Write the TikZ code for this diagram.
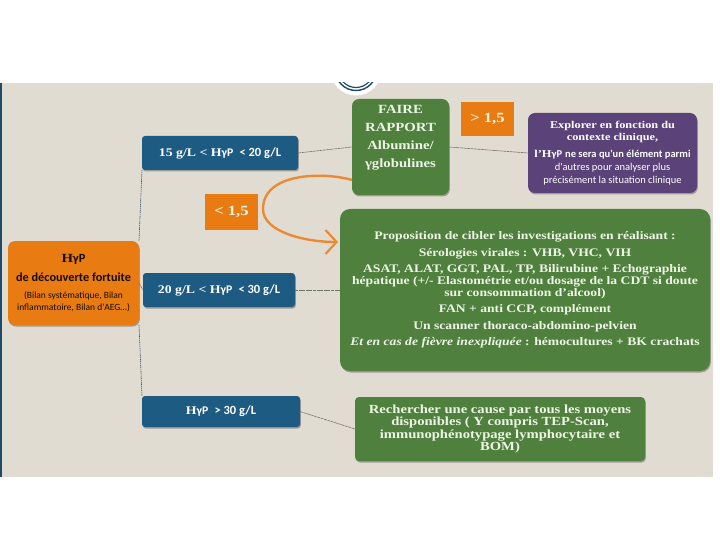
\documentclass[tikz,border=0pt]{standalone}
\usepackage{fontspec}
\setmainfont[FakeStretch=1.18]{Liberation Serif}
\newfontfamily\carl{Carlito}
\usetikzlibrary{shadows,arrows.meta,calc}
\definecolor{bgc}{HTML}{E1DCD2}
\definecolor{orangec}{HTML}{E87C12}
\definecolor{loopc}{HTML}{EC8A33}
\definecolor{bluec}{HTML}{1E5B83}
\definecolor{greenc}{HTML}{4F803E}
\definecolor{purplec}{HTML}{5B4278}
\definecolor{linec}{HTML}{6F7468}
\definecolor{mint}{HTML}{EFF5E6}
\definecolor{navy}{HTML}{1F4A68}
\newcommand{\fs}[1]{\fontsize{#1}{#1}\selectfont}
\newcommand{\hyp}{H{\carl γP}}
\tikzset{
  box/.style={inner sep=0pt,outer sep=0pt,align=center,rounded corners=#1,
    drop shadow={shadow xshift=0.8pt,shadow yshift=-1.5pt,opacity=.45,fill=black!70}},
  box/.default=3pt,
  flat/.style={inner sep=0pt,outer sep=0pt,align=center,fill=orangec,text=mint,font=\bfseries\fs{14}},
  conn/.style={draw=linec,line width=.6pt,dash pattern=on 3pt off .6pt},
  spine/.style={draw=navy!80!gray,line width=.6pt,dash pattern=on 1.4pt off .7pt},
  lab/.style={font=\bfseries\fs{11.7},text=white}
}
\begin{document}
\begin{tikzpicture}[x=1pt,y=-1pt]
\useasboundingbox (0,0) rectangle (720,540);
\fill[white] (0,0) rectangle (720,540);
\fill[bgc] (2,83) -- (713,83) -- (713,477) -- (2,477) -- cycle;
\fill[navy] (0,83) rectangle (2,477);
% emblem fragment
\begin{scope}
\clip (330,83) rectangle (386,100);
\fill[white] (356,70) circle (25.5);
\draw[navy,line width=1.4pt] (356,70) circle (20.5);
\draw[navy,line width=1.2pt] (356,70) circle (17.5);
\end{scope}
% nodes
\node[box,fill=orangec,minimum width=131pt,minimum height=84pt,rounded corners=7pt,text=black!90!orangec] (orange) at (73.5,283)
 {{\bfseries\fs{12.5}\hyp}\\[7pt]{\carl\bfseries\fs{12.3}de découverte fortuite}\\[5pt]{\carl\fs{9.5}(Bilan systématique, Bilan}\\[0pt]{\carl\fs{9.5}inflammatoire, Bilan d'AEG…)}};
\node[box,fill=bluec,minimum width=156pt,minimum height=34pt,lab] (blue1) at (220,153)
 {15 g/L < \hyp{} {\carl\fs{12.5} < 20 g/L}};
\node[box,fill=bluec,minimum width=152pt,minimum height=34pt,lab] (blue2) at (219,290)
 {20 g/L < \hyp{} {\carl\fs{12.5} < 30 g/L}};
\node[box,fill=bluec,minimum width=158pt,minimum height=31pt,lab] (blue3) at (221,411.5)
 {\hyp{} {\carl\fs{12.5} > 30 g/L}};
\node[flat,minimum width=53pt,minimum height=36pt] (lt) at (231.5,212) {< 1,5};
\node[flat,minimum width=53pt,minimum height=34pt] (gt) at (487.5,119) {> 1,5};
\node[box=7pt,fill=greenc,minimum width=97pt,minimum height=96pt,text=mint,font=\bfseries\fs{12.5}] (faire) at (400.5,147)
 {FAIRE\\[5.5pt]RAPPORT\\[5.5pt]Albumine/\\[5.5pt]γglobulines\\[9pt]\mbox{}};
\node[box=7pt,fill=purplec,minimum width=169pt,minimum height=80pt,text=white] (purple) at (612.5,153)
 {{\bfseries\fs{10.4}Explorer en fonction du}\\[0pt]{\bfseries\fs{10.4}contexte clinique,}\\[5pt]
  {\bfseries\fs{10.5}l'\hyp{} {\carl\fs{10.5}ne sera qu'un élément parmi}}\\[1pt]
  {\carl\fs{10.5}d'autres pour analyser plus}\\[1pt]
  {\carl\fs{10.5}précisément la situation clinique}};
\node[box=10pt,fill=greenc,minimum width=370pt,minimum height=162pt,text=mint,font=\bfseries\fs{11.55}] (big) at (525,290)
 {Proposition de cibler les investigations en réalisant :\\[5pt]
  Sérologies virales : VHB, VHC, VIH\\[5pt]
  ASAT, ALAT, GGT, PAL, TP, Bilirubine + Echographie\\[0pt]
  hépatique (+/- Elastométrie et/ou dosage de la CDT si doute\\[0pt]
  sur consommation d'alcool)\\[5pt]
  FAN + anti CCP, complément\\[5pt]
  Un scanner thoraco-abdomino-pelvien\\[5pt]
  {\itshape Et en cas de fièvre inexpliquée} : hémocultures + BK crachats};
\node[box=4pt,fill=greenc,minimum width=290pt,minimum height=64pt,text=mint,font=\bfseries\fs{12.4}] (low) at (500,429)
 {Rechercher une cause par tous les moyens\\[0pt]
  disponibles ( Y compris TEP-Scan,\\[0pt]
  immunophénotypage lymphocytaire et\\[0pt]
  BOM)};
% connectors
\draw[conn] (blue1.east) -- (faire.west);
\draw[conn] (faire.east) -- (purple.west);
\draw[conn] (blue2.east) -- (big.west);
\draw[conn] (blue3.east) -- (low.west);
\draw[spine] (blue1.south west) -- (orange.north east);
\draw[spine] (orange.south east) -- (blue3.north west);
\draw[conn] (orange.east) -- (blue2.west);
% orange loop
\coordinate (loopstart) at ($(faire.south west)+(0,-15)$);
\coordinate (loopend) at (338,242);
\draw[loopc,line width=2.4pt,-{Straight Barb[length=11pt,width=24pt,line width=2.2pt]}]
  (loopstart) .. controls (325,172) and (263,172) .. (263,209)
  .. controls (263,232) and (305,242) .. (loopend);
\end{tikzpicture}
\end{document}
